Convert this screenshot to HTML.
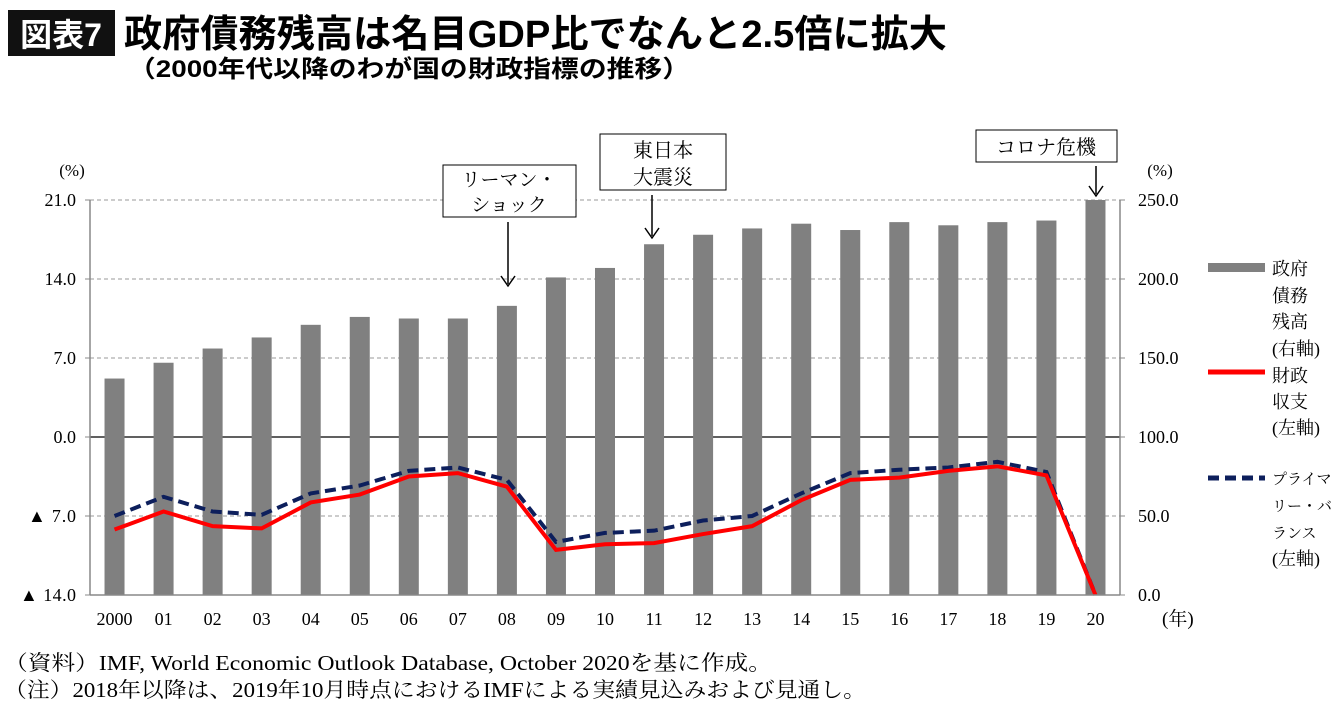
<!DOCTYPE html>
<html><head><meta charset="utf-8"><style>
body{margin:0;background:#fff;width:1340px;height:711px;overflow:hidden;font-family:"Liberation Serif","Noto Serif CJK SC",serif}
</style></head><body>
<svg width="1340" height="711" xmlns="http://www.w3.org/2000/svg">
<rect x="8" y="10" width="107" height="46" fill="#111"/>
<text x="61" y="46" fill="#fff" font-size="32" font-weight="bold" text-anchor="middle" font-family="Liberation Sans,Noto Sans CJK JP,sans-serif">図表7</text>
<text x="124" y="47" font-size="38" font-weight="bold" textLength="823" lengthAdjust="spacingAndGlyphs" font-family="Liberation Sans,Noto Sans CJK JP,sans-serif">政府債務残高は名目GDP比でなんと2.5倍に拡大</text>
<text x="128" y="77" font-size="24" font-weight="bold" textLength="562" lengthAdjust="spacingAndGlyphs" font-family="Liberation Sans,Noto Sans CJK JP,sans-serif">（2000年代以降のわが国の財政指標の推移）</text>
<g id="grid"></g><g id="bars"></g><g id="lines"></g><g id="axes"></g>
<text x="72" y="176" font-size="17" text-anchor="middle">(%)</text>
<text x="1160" y="176" font-size="17" text-anchor="middle">(%)</text>
<text x="1162" y="625" font-size="19">(年)</text>
<g font-size="20" font-family="Liberation Serif,Noto Serif CJK JP,serif">
<rect x="443" y="165" width="133" height="52" fill="#fff" stroke="#000"/>
<text x="509" y="186" text-anchor="middle" font-size="19">リーマン・</text>
<text x="509" y="211" text-anchor="middle" font-size="19">ショック</text>
<line x1="508" y1="222" x2="508" y2="284" stroke="#000" stroke-width="1.5"/>
<path d="M501,276 L508,286 L515,276" fill="none" stroke="#000" stroke-width="1.5"/>
<rect x="600" y="134" width="126" height="56" fill="#fff" stroke="#000"/>
<text x="663" y="157" text-anchor="middle">東日本</text>
<text x="663" y="184" text-anchor="middle">大震災</text>
<line x1="652" y1="195" x2="652" y2="236" stroke="#000" stroke-width="1.5"/>
<path d="M645,228 L652,238 L659,228" fill="none" stroke="#000" stroke-width="1.5"/>
<rect x="976" y="130" width="141" height="32" fill="#fff" stroke="#000"/>
<text x="1046" y="154" text-anchor="middle">コロナ危機</text>
<line x1="1096" y1="166" x2="1096" y2="194" stroke="#000" stroke-width="1.5"/>
<path d="M1089,186 L1096,196 L1103,186" fill="none" stroke="#000" stroke-width="1.5"/>
</g>
<g font-size="18">
<rect x="1208" y="263" width="57" height="9" fill="#808080"/>
<text x="1272" y="275">政府</text>
<text x="1272" y="302">債務</text><text x="1272" y="328">残高</text><text x="1272" y="355">(右軸)</text>
<line x1="1208" y1="372" x2="1265" y2="372" stroke="#f00" stroke-width="5"/>
<text x="1272" y="382">財政</text>
<text x="1272" y="408">収支</text><text x="1272" y="434">(左軸)</text>
<line x1="1208" y1="478" x2="1265" y2="478" stroke="#0d1f5c" stroke-width="5" stroke-dasharray="11,6"/>
<text x="1272" y="484" font-size="15">プライマ</text>
<text x="1272" y="511" font-size="15">リー・バ</text><text x="1272" y="538" font-size="15">ランス</text><text x="1272" y="565">(左軸)</text>
</g>
<text x="4" y="670" font-size="21" textLength="768" lengthAdjust="spacingAndGlyphs">（資料）IMF, World Economic Outlook Database, October 2020を基に作成。</text>
<text x="4" y="697" font-size="21" textLength="862" lengthAdjust="spacingAndGlyphs">（注）2018年以降は、2019年10月時点におけるIMFによる実績見込みおよび見通し。</text>
</svg>
<script>
const years=["2000","01","02","03","04","05","06","07","08","09","10","11","12","13","14","15","16","17","18","19","20"];
const debt=[137,147,156,163,171,176,175,175,183,201,207,222,228,232,235,231,236,234,236,237,250];
const balance=[-8.2,-6.6,-7.9,-8.1,-5.8,-5.1,-3.5,-3.2,-4.4,-10.0,-9.5,-9.4,-8.6,-7.9,-5.6,-3.8,-3.6,-3.0,-2.6,-3.4,-14.0];
const primary=[-7.0,-5.3,-6.6,-6.9,-5.0,-4.3,-3.0,-2.7,-3.8,-9.3,-8.5,-8.3,-7.4,-7.0,-5.0,-3.2,-2.9,-2.7,-2.2,-3.1,-14.0];
const leftTicks=[21,14,7,0,-7,-14];
const leftLabels=["21.0","14.0","7.0","0.0","▲ 7.0","▲ 14.0"];
const rightTicks=[250,200,150,100,50,0];
const rightLabels=["250.0","200.0","150.0","100.0","50.0","0.0"];
const NS="http://www.w3.org/2000/svg";
const X0=90,X1=1120,Y0=200,Y1=595;
const step=(X1-X0)/years.length;
const xs=i=>X0+step*(i+0.5);
const yL=v=>Y1-(v+14)/35*(Y1-Y0);
const yR=v=>Y1-v/250*(Y1-Y0);
function mk(tag,attrs,parent){const e=document.createElementNS(NS,tag);for(const k in attrs)e.setAttribute(k,attrs[k]);document.getElementById(parent).appendChild(e);return e;}
leftTicks.forEach((t,i)=>{
 const y=yL(t);
 const g=mk('line',{x1:X0,x2:X1,y1:y,y2:y,stroke:t===0?'#000':'#999','stroke-width':t===0?1.3:1,'stroke-dasharray':t===0?'':'4,3'},'grid');
 
 
 const l=mk('text',{x:X0-14,y:y+6,'font-size':18,'text-anchor':'end'},'axes');l.textContent=leftLabels[i];
 
 
 if(t<0){l.setAttribute('textLength',t===-14?56:48);l.setAttribute('lengthAdjust','spacing');}
 mk('line',{x1:X0-5,x2:X0,y1:y,y2:y,stroke:'#888'},'axes');
});
rightTicks.forEach((t,i)=>{
 const y=yR(t);
 const l=mk('text',{x:X1+18,y:y+6,'font-size':18},'axes');l.textContent=rightLabels[i];
 
 
 mk('line',{x1:X1,x2:X1+5,y1:y,y2:y,stroke:'#888'},'axes');
});
mk('line',{x1:X0,x2:X0,y1:Y0,y2:Y1,stroke:'#888','stroke-width':1.5},'axes');
mk('line',{x1:X1,x2:X1,y1:Y0,y2:Y1,stroke:'#888','stroke-width':1.5},'axes');
mk('line',{x1:X0,x2:X1,y1:Y1,y2:Y1,stroke:'#888','stroke-width':1.5},'axes');
years.forEach((yr,i)=>{
 const b=mk('rect',{x:xs(i)-10,y:yR(debt[i]),width:20,height:Y1-yR(debt[i]),fill:'#808080'},'bars');
 
 
 const t=mk('text',{x:xs(i),y:625,'font-size':18,'text-anchor':'middle'},'axes');t.textContent=yr;
 
 
});
const pb=mk('polyline',{points:primary.map((v,i)=>xs(i)+','+yL(v)).join(' '),fill:'none',stroke:'#0d1f5c','stroke-width':4,'stroke-dasharray':'11,6'},'lines');


const rb=mk('polyline',{points:balance.map((v,i)=>xs(i)+','+yL(v)).join(' '),fill:'none',stroke:'#f00','stroke-width':4},'lines');


</script>
</body></html>
